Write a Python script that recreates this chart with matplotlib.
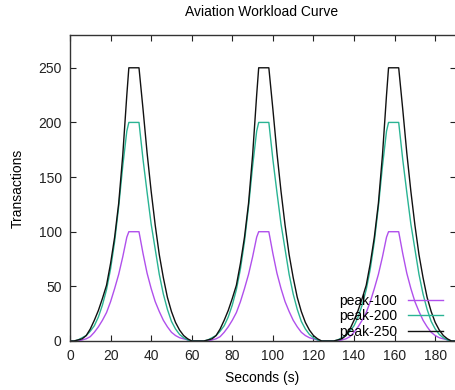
import matplotlib
matplotlib.use("Agg")
from matplotlib import pyplot as plt

# seconds sampled along the three workload cycles
seconds = [0, 2, 4, 6, 8, 10, 12, 14, 16, 18, 20, 22, 24, 26, 28, 29, 34, 36, 38, 40, 42, 44, 46, 48, 50, 52, 54, 56, 58, 60, 62,
           64, 66, 68, 70, 72, 74, 76, 78, 80, 82, 84, 86, 88, 90, 92, 93, 98, 100, 102, 104, 106, 108, 110, 112, 114, 116, 118, 120, 122, 124, 126,
           128, 130, 132, 134, 136, 138, 140, 142, 144, 146, 148, 150, 152, 154, 156, 157, 162, 164, 166, 168, 170, 172, 174, 176, 178, 180, 182, 184, 186, 188, 190]

peak_100 = [0, 0, 0, 1, 2, 4, 8, 13, 19, 26, 36, 48, 61, 77, 95, 100, 100, 80, 62, 48, 36, 27, 19, 13, 8, 5, 3, 2, 1, 0, 0,
            0, 0, 0, 1, 2, 4, 8, 13, 19, 26, 36, 48, 61, 77, 95, 100, 100, 80, 62, 48, 36, 27, 19, 13, 8, 5, 3, 2, 1, 0, 0,
            0, 0, 0, 1, 2, 4, 8, 13, 19, 26, 36, 48, 61, 77, 95, 100, 100, 80, 62, 48, 36, 27, 19, 13, 8, 5, 3, 2, 1, 0, 0]

peak_200 = [0, 0, 1, 3, 5, 9, 14, 22, 33, 47, 66, 91, 123, 160, 192, 200, 200, 166, 136, 107, 84, 61, 43, 29, 18, 11, 6, 3, 1, 0, 0,
            0, 0, 1, 3, 5, 9, 14, 22, 33, 47, 66, 91, 123, 160, 192, 200, 200, 166, 136, 107, 84, 61, 43, 29, 18, 11, 6, 3, 1, 0, 0,
            0, 0, 1, 3, 5, 9, 14, 22, 33, 47, 66, 91, 123, 160, 192, 200, 200, 166, 136, 107, 84, 61, 43, 29, 18, 11, 6, 3, 1, 0, 0]

peak_250 = [0, 0, 1, 2, 5, 11, 19, 28, 39, 51, 71, 95, 126, 170, 225, 250, 250, 212, 172, 137, 106, 79, 58, 40, 27, 17, 10, 5, 2, 0, 0,
            0, 0, 1, 2, 5, 11, 19, 28, 39, 51, 71, 95, 126, 170, 225, 250, 250, 212, 172, 137, 106, 79, 58, 40, 27, 17, 10, 5, 2, 0, 0,
            0, 0, 1, 2, 5, 11, 19, 28, 39, 51, 71, 95, 126, 170, 225, 250, 250, 212, 172, 137, 106, 79, 58, 40, 27, 17, 10, 5, 2, 0, 0]

x_ticks = [0, 20, 40, 60, 80, 100, 120, 140, 160, 180]
y_ticks = [0, 50, 100, 150, 200, 250]

plt.rcParams['font.family'] = ['Liberation Sans', 'DejaVu Sans']
plt.rcParams['font.size'] = 10

fig = plt.figure(figsize=(4.56, 3.90), dpi=100)
ax = fig.add_axes([70/456, 1 - 341/390, 385.5/456, 306/390])

ax.plot(seconds, peak_100, color='#b050ec', lw=1, label='peak-100')
ax.plot(seconds, peak_200, color='#2ab494', lw=1, label='peak-200')
ax.plot(seconds, peak_250, color='#111111', lw=1, label='peak-250')

ax.set_xlim(0, 190)
ax.set_ylim(0, 280)
ax.set_xticks(x_ticks)
ax.set_yticks(y_ticks)
ax.tick_params(direction='in', length=4.5, width=0.8, top=True, right=True, pad=6, colors='#222222')
for s in ax.spines.values():
    s.set_color('#333333')
    s.set_linewidth(1)

fig.text(262/456, 1 - 12/390, 'Aviation Workload Curve', ha='center', va='center', fontsize=10)
fig.text(262/456, 1 - 378/390, 'Seconds (s)', ha='center', va='center', fontsize=10)
fig.text(18/456, 1 - 188/390, 'Transactions', ha='center', va='center', rotation=90, fontsize=10)

ax.legend(loc='lower right', bbox_to_anchor=(443/456, 1 - 339/390), bbox_transform=fig.transFigure,
          frameon=False, markerfirst=False, handlelength=2.5, handletextpad=0.8,
          labelspacing=0.12, borderpad=0, borderaxespad=0)

fig.savefig('out.png', dpi=100)
